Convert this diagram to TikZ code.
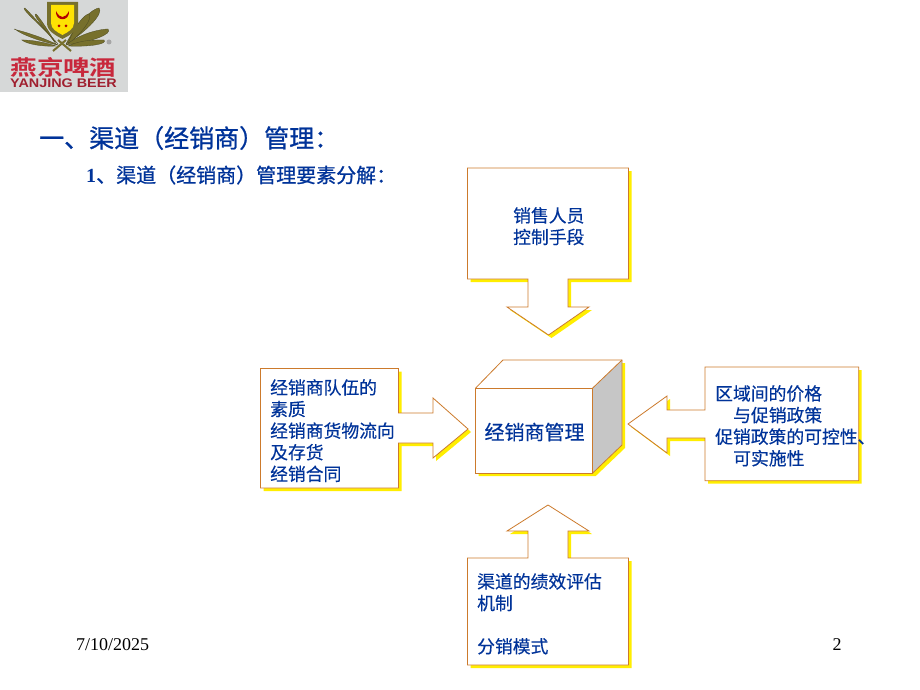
\documentclass[tikz,border=0pt]{standalone}
\usepackage{graphicx}
\usepackage{fontspec}
\setmainfont{Liberation Serif}
\newfontfamily\cjk[FakeBold=0.35]{Noto Sans CJK SC}
\newfontfamily\cjkt[FakeBold=0.8]{Noto Sans CJK SC}
\newfontfamily\cjkb{Noto Sans CJK SC Bold}
\newfontfamily\lsans{Liberation Sans}
\definecolor{navy}{HTML}{003399}
\definecolor{edge}{HTML}{CC7A2C}
\definecolor{shade}{HTML}{FFEE00}
\definecolor{logobg}{HTML}{D6D8D8}
\definecolor{logored}{HTML}{C8283C}
\definecolor{olive}{HTML}{77702C}
\definecolor{olivedark}{HTML}{4C4A22}
\tikzset{
  x=1pt,y=-1pt,
  callout/.style={draw=edge,line width=0.8pt,fill=white,line join=miter},
  shadow/.style={fill=shade,draw=none},
  label/.style={inner sep=0pt,align=left,anchor=north west,text=navy,font=\cjk\fontsize{17.8}{21.6}\selectfont},
  title/.style={inner sep=0pt,anchor=west,text=navy},
  foot/.style={inner sep=0pt,text=black,font=\fontsize{18}{20}\selectfont},
  ear/.style={fill=olive,draw=olivedark,line width=0.3pt}
}
\begin{document}
\begin{tikzpicture}
\useasboundingbox (0,0) rectangle (920,690);
\fill[white] (0,0) rectangle (920,690);
% logo
\fill[logobg] (0,0) rectangle (128,92);
\foreach \ax/\ay/\bx/\by/\w in {58/44/25/8/5, 56/44/36/14/4, 58/45/15/29/5, 56/46/22/40/4, 66/44/99/8/5, 68/44/89/14/4, 66/45/108/29/5, 68/46/104/40/4}{
  \path[ear] (\ax,\ay) .. controls ({(\ax+\bx)/2-\w},{(\ay+\by)/2-\w}) and ({\bx-\w},{\by}) .. (\bx,\by)
     .. controls ({\bx+\w},{\by+\w}) and ({(\ax+\bx)/2+\w},{(\ay+\by)/2+\w}) .. (\ax,\ay) -- cycle;
}
\draw[olive,line width=2pt] (53,51) -- (66,40);
\draw[olive,line width=2pt] (71,51) -- (58,40);
\fill[olive] (47,2) -- (78,2) -- (78,23) .. controls (78,31) and (70,35) .. (62.5,39) .. controls (55,35) and (47,31) .. (47,23) -- cycle;
\fill[yellow!85!orange] (51,5) -- (74,5) -- (74,23) .. controls (74,29) and (68,32) .. (62.5,35) .. controls (57,32) and (51,29) .. (51,23) -- cycle;
\fill[red!70!black] (56,11) .. controls (60,19) and (65,19) .. (69,11) .. controls (70,22) and (55,22) .. (56,11) -- cycle;
\fill[red!70!black] (59,26) circle (1.5) (66,26) circle (1.5);
\fill[gray!70] (109,42) circle (2.5);
\node (logocn) [inner sep=0pt,text=logored] at (63.5,67) {\scalebox{1.26}[1]{\cjkb\fontsize{21}{21}\selectfont 燕京啤酒}};
\node (logoen) [inner sep=0pt,text=logored!80!black] at (63.5,83) {\scalebox{1.15}[1]{\lsans\bfseries\fontsize{12.5}{13}\selectfont YANJING BEER}};
% titles
\node (t1) [title,font=\cjkt\fontsize{25}{25}\selectfont] at (39,138) {一、渠道（经销商）管理：};
\node (t2) [title,font=\cjkt\fontsize{20}{20}\selectfont] at (86,175) {{\fontspec{Liberation Serif}\bfseries 1}、渠道（经销商）管理要素分解：};
% top callout
\def\topshape{(467.5,168) -- (628.5,168) -- (628.5,279) -- (568,279) -- (568,307) -- (589,307) -- (548.5,335) -- (507,307) -- (528,307) -- (528,279) -- (467.5,279) -- cycle}
\fill[shadow,shift={(3,3)}] \topshape;
\draw[callout] \topshape;
\node (topt) [label] at (513,207) {销售人员\\控制手段};
% left callout
\def\leftshape{(260.5,368.5) -- (398.5,368.5) -- (398.5,413) -- (433,413) -- (433,398) -- (468,429) -- (433,458) -- (433,443) -- (398.5,443) -- (398.5,488) -- (260.5,488) -- cycle}
\fill[shadow,shift={(3,3)}] \leftshape;
\draw[callout] \leftshape;
\node (leftt) [label] at (270,379) {经销商队伍的\\素质\\经销商货物流向\\及存货\\经销合同};
% right callout
\def\rightshape{(705,367) -- (858.7,367) -- (858.7,480.7) -- (705,480.7) -- (705,438) -- (667,438) -- (667,453) -- (628,424) -- (667,396) -- (667,410) -- (705,410) -- cycle}
\fill[shadow,shift={(3,3)}] \rightshape;
\draw[callout] \rightshape;
\node (rightt) [label] at (715,385) {区域间的价格\\\hspace*{18pt}与促销政策\\促销政策的可控性、\\\hspace*{18pt}可实施性};
% bottom callout
\def\botshape{(467.5,558) -- (528,558) -- (528,531) -- (507,531) -- (548,505) -- (589,531) -- (568,531) -- (568,558) -- (628.5,558) -- (628.5,665) -- (467.5,665) -- cycle}
\fill[shadow,shift={(3,3)}] \botshape;
\draw[callout] \botshape;
\node (bott) [label] at (477,573) {渠道的绩效评估\\机制\\\\分销模式};
% cube
\def\cubeshape{(475.7,388) -- (503,360) -- (622,360) -- (622,445) -- (592.7,473) -- (475.7,473) -- cycle}
\fill[shadow,shift={(3,3)}] \cubeshape;
\fill[white] \cubeshape;
\fill[gray!45] (592.7,388) -- (622,360) -- (622,445) -- (592.7,473) -- cycle;
\draw[callout,fill=none] (475.7,388) rectangle (592.7,473);
\draw[callout,fill=none] (475.7,388) -- (503,360) -- (622,360) -- (622,445) -- (592.7,473);
\draw[callout,fill=none] (592.7,388) -- (622,360);
\node (cube) [inner sep=0pt,text=navy,font=\cjk\fontsize{20}{20}\selectfont] at (534.5,432) {经销商管理};
% footer
\node (date) [foot,anchor=west] at (76,645) {7/10/2025};
\node (page) [foot] at (837,645) {2};
\end{tikzpicture}
\end{document}
